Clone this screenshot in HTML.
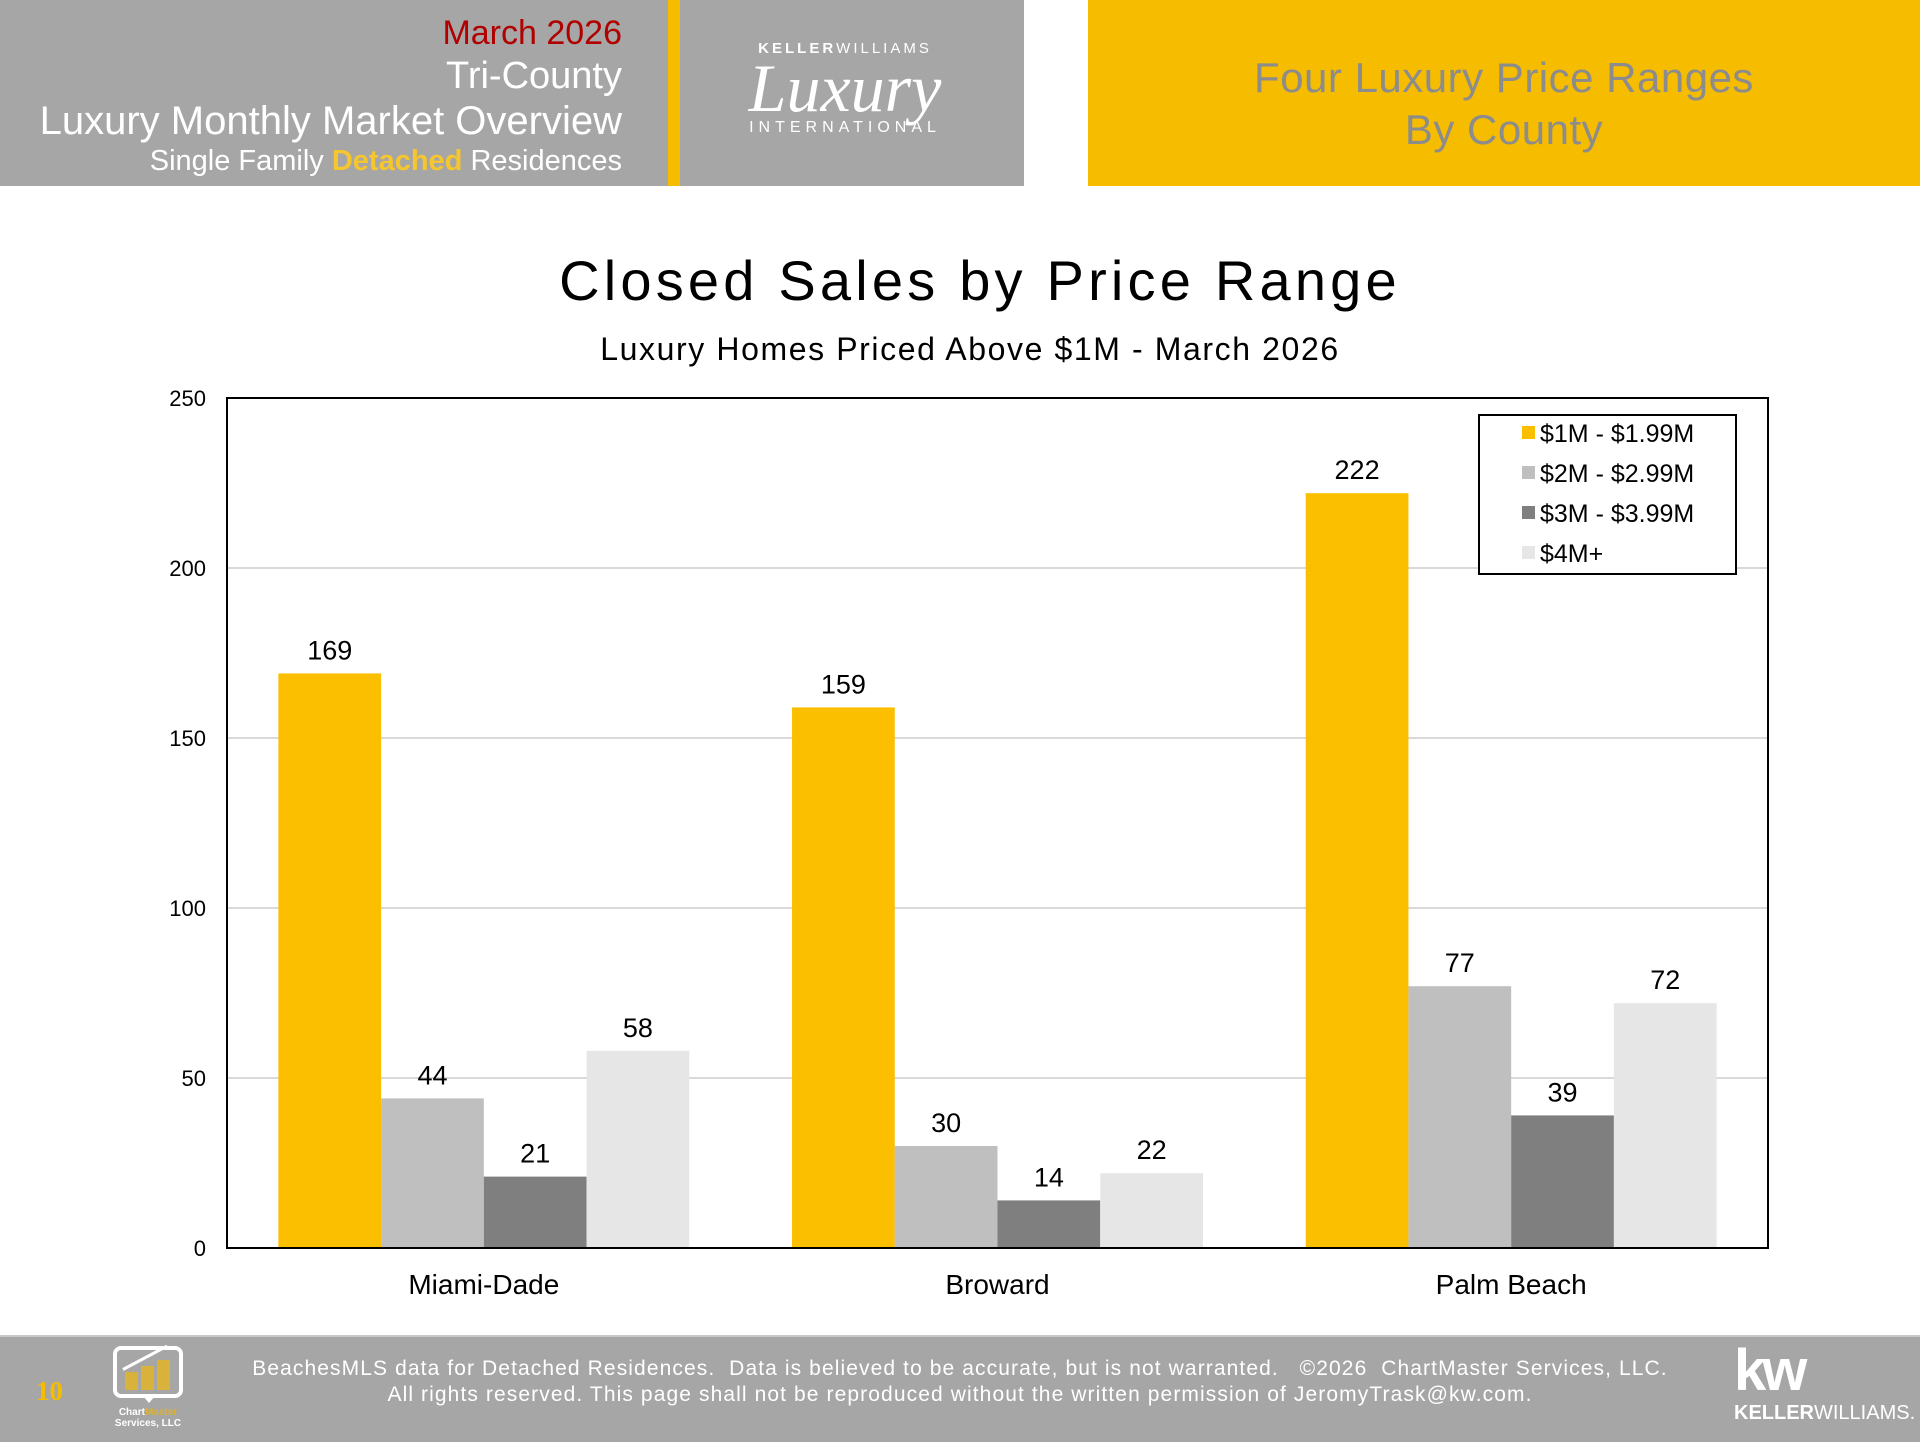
<!DOCTYPE html>
<html><head><meta charset="utf-8"><style>
body{margin:0;width:1920px;height:1440px;position:relative;background:#fff;font-family:"Liberation Sans",sans-serif;overflow:hidden}
.a{position:absolute}
</style></head><body>
<div class="a" style="left:0;top:0;width:1024px;height:186px;background:#a6a6a6"></div>
<div class="a" style="left:668px;top:0;width:12px;height:186px;background:#f6bc00"></div>
<div class="a" style="right:1298px;top:12px;text-align:right;color:#fff;white-space:nowrap">
<div style="color:#b00000;font-size:34px;line-height:42px">March 2026</div>
<div style="font-size:38px;line-height:44px">Tri-County</div>
<div style="font-size:40px;line-height:46px">Luxury Monthly Market Overview</div>
<div style="font-size:29px;line-height:34px">Single Family <b style="color:#f6c62e">Detached</b> Residences</div>
</div>
<div class="a" style="left:700px;top:40px;width:320px;color:#fff;text-align:center">
<div style="font-size:15px;letter-spacing:3px;margin-left:-30px"><b>KELLER</b>WILLIAMS</div>
<div style="font-family:'Liberation Serif',serif;font-style:italic;font-size:68px;line-height:62px;margin-left:-30px">Luxury</div>
<div style="font-size:16px;letter-spacing:5px;margin-left:-30px">INTERNATIONAL</div>
</div>
<div class="a" style="left:1088px;top:0;width:832px;height:186px;background:#f6bc00;color:#8c8c8c;font-size:42px;line-height:52px;text-align:center;box-sizing:border-box;padding-top:52px;letter-spacing:0.5px">Four Luxury Price Ranges<br>By County</div>

<div class="a" style="left:0;width:1960px;top:248px;text-align:center;font-size:56px;letter-spacing:4.2px;color:#000">Closed Sales by Price Range</div>
<div class="a" style="left:0;width:1940px;top:331px;text-align:center;font-size:32px;letter-spacing:1.6px;color:#000">Luxury Homes Priced Above $1M - March 2026</div>

<svg class="a" id="chart" style="left:0;top:0" width="1920" height="1440"></svg>

<div class="a" style="left:0;top:1335px;width:1920px;height:105px;background:#a6a6a6;border-top:2px solid #c8c8c8"></div>
<div class="a" style="left:36px;top:1376px;font-family:'Liberation Serif',serif;font-weight:bold;color:#f6bc00;font-size:27px">10</div>
<div class="a" style="left:113px;top:1346px;width:70px;height:52px;border:4px solid #fff;border-radius:8px;box-sizing:border-box">
<div style="position:absolute;left:8px;bottom:4px;width:13px;height:18px;background:#d8b23a"></div>
<div style="position:absolute;left:24px;bottom:4px;width:13px;height:24px;background:#d8b23a"></div>
<div style="position:absolute;left:40px;bottom:4px;width:13px;height:30px;background:#d8b23a"></div>
<div style="position:absolute;left:6px;top:18px;width:50px;height:3px;background:#fff;transform:rotate(-28deg);transform-origin:left center"></div>
</div>
<div class="a" style="left:143px;top:1396px;width:0;height:0;border-left:6px solid transparent;border-right:6px solid transparent;border-top:7px solid #fff"></div>
<div class="a" style="left:103px;top:1407px;width:90px;text-align:center;color:#fff;font-size:10px;line-height:11px;font-weight:bold">Chart<span style="color:#d8b23a">Master</span><br>Services, LLC</div>
<div class="a" style="left:0;width:1920px;top:1356px;text-align:center;color:#fff;font-size:21px;line-height:26px;letter-spacing:1.1px">BeachesMLS data for Detached Residences.&nbsp; Data is believed to be accurate, but is not warranted.&nbsp;&nbsp; ©2026&nbsp; ChartMaster Services, LLC.<br>All rights reserved. This page shall not be reproduced without the written permission of JeromyTrask@kw.com.</div>
<div class="a" style="left:1734px;top:1340px;color:#fff">
<div style="font-size:58px;font-weight:bold;letter-spacing:-4px;line-height:62px">kw</div>
<div style="font-size:20px;line-height:22px"><b>KELLER</b>WILLIAMS.</div>
</div>

<script>
const categories=["Miami-Dade","Broward","Palm Beach"];
const seriesNames=["$1M - $1.99M","$2M - $2.99M","$3M - $3.99M","$4M+"];
const s1=[169,159,222];
const s2=[44,30,77];
const s3=[21,14,39];
const s4=[58,22,72];
const yTicks=[0,50,100,150,200,250];
const series=[s1,s2,s3,s4];
const colors=["#fbbf00","#bfbfbf","#7f7f7f","#e6e6e6"];
const NS="http://www.w3.org/2000/svg";
const svg=document.getElementById('chart');
const L=227,R=1768,T=398,B=1248,yMax=250;
const y=v=>B-(v/yMax)*(B-T);
const gw=(R-L)/categories.length, bw=gw*0.8/series.length;
function mk(t,a){const e=document.createElementNS(NS,t);for(const k in a)e.setAttribute(k,a[k]);svg.appendChild(e);return e;}
yTicks.forEach(v=>{
 if(v>0&&v<yMax){const g=mk('line',{x1:L,x2:R,y1:y(v),y2:y(v),stroke:'#d9d9d9','stroke-width':2});
 
 }
 const t=mk('text',{x:206,y:y(v)+8,'text-anchor':'end','font-size':22,fill:'#000','font-family':'Liberation Sans'});
 t.textContent=v;
 
 
});
series.forEach((s,si)=>{
 s.forEach((v,ci)=>{
  const x=L+ci*gw+gw*0.1+si*bw;
  const r=mk('rect',{x:x,y:y(v),width:bw,height:B-y(v),fill:colors[si]});
  
  
  const t=mk('text',{x:x+bw/2,y:y(v)-14,'text-anchor':'middle','font-size':27,fill:'#000','font-family':'Liberation Sans'});
  t.textContent=v;
  
  
 });
});
categories.forEach((c,ci)=>{
 const t=mk('text',{x:L+ci*gw+gw/2,y:1294,'text-anchor':'middle','font-size':28,fill:'#000','font-family':'Liberation Sans'});
 t.textContent=c;
 
 
});
const fr=mk('rect',{x:L,y:T,width:R-L,height:B-T,fill:'none',stroke:'#000','stroke-width':2});


const lb=mk('rect',{x:1479,y:415,width:257,height:159,fill:'#fff',stroke:'#000','stroke-width':2});


seriesNames.forEach((n,i)=>{
 const yy=433+i*40;
 const m=mk('rect',{x:1522,y:yy-7,width:13,height:13,fill:colors[i]});
 
 
 const t=mk('text',{x:1540,y:yy+9,'font-size':25,fill:'#000','font-family':'Liberation Sans'});
 t.textContent=n;
 
 
});
</script>
</body></html>
